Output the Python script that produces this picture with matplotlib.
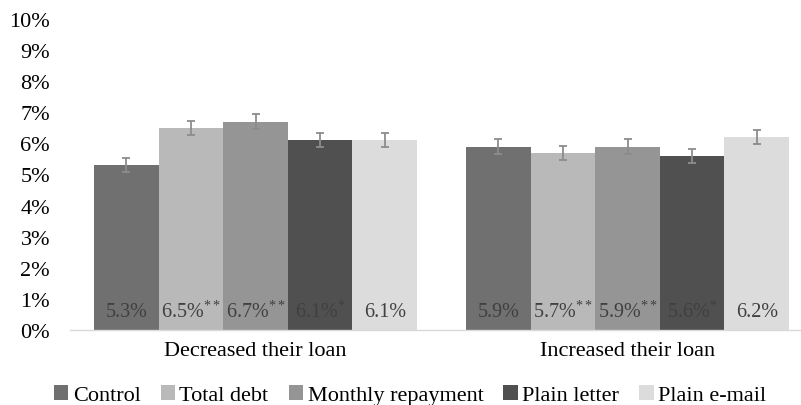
import matplotlib.pyplot as plt
import numpy as np

plt.rcParams['font.family'] = ['Liberation Serif', 'DejaVu Serif']
plt.rcParams['mathtext.fontset'] = 'custom'
plt.rcParams['mathtext.rm'] = 'Liberation Serif'
plt.rcParams['mathtext.it'] = 'Liberation Serif'

groups = ["Decreased their loan", "Increased their loan"]
series = ["Control", "Total debt", "Monthly repayment", "Plain letter", "Plain e-mail"]
values = [
    [5.3, 5.9],
    [6.5, 5.7],
    [6.7, 5.9],
    [6.1, 5.6],
    [6.1, 6.2],
]
errors = [
    [0.23, 0.23],
    [0.23, 0.23],
    [0.23, 0.23],
    [0.23, 0.23],
    [0.23, 0.23],
]
stars = [
    ["", ""],
    ["**", "**"],
    ["**", "**"],
    ["*", "*"],
    ["", ""],
]
colors = ["#707070", "#b9b9b9", "#959595", "#505050", "#dcdcdc"]

fig = plt.figure(figsize=(8.01, 4.06), dpi=100)
ax = fig.add_axes([69.5 / 801, 75 / 406, 1 - 69.5 / 801, 311 / 406])

x = np.arange(len(groups))
w = 0.1737
for i, name in enumerate(series):
    pos = x + (i - 2) * w
    ax.bar(pos, values[i], width=w, color=colors[i], label=name, zorder=2)
    ax.errorbar(pos, values[i], yerr=errors[i], fmt='none', ecolor='#8c8c8c',
                elinewidth=1.3, capsize=3, capthick=1.3, zorder=3)
    for p, v, s in zip(pos, values[i], stars[i]):
        lab = f"{v:.1f}%" + (r"$^{" + s + "}$" if s else "")
        ax.text(p, 0.61, lab, ha='center', va='center', fontsize=14.5, color='#404040', zorder=4)

ax.set_xlim(-0.5, -0.5 + 731.5 / 372)
ax.set_ylim(0, 10)
ax.set_yticks(range(0, 11))
ax.set_yticklabels([f"{t}%" for t in range(0, 11)], fontsize=16)
ax.set_xticks(x)
ax.set_xticklabels(groups, fontsize=16)
ax.tick_params(axis='both', length=0)
ax.tick_params(axis='y', pad=14)
ax.tick_params(axis='x', pad=8)
for side in ['top', 'right', 'left']:
    ax.spines[side].set_visible(False)
ax.spines['bottom'].set_color('#d9d9d9')
ax.spines['bottom'].set_linewidth(1)

fig.legend(loc='center', bbox_to_anchor=(410 / 801, 10 / 406), ncol=5, frameon=False,
           fontsize=16, handlelength=0.65, handleheight=0.65, handletextpad=0.2,
           columnspacing=0.9, borderpad=0)

fig.savefig("out.png", dpi=100)
